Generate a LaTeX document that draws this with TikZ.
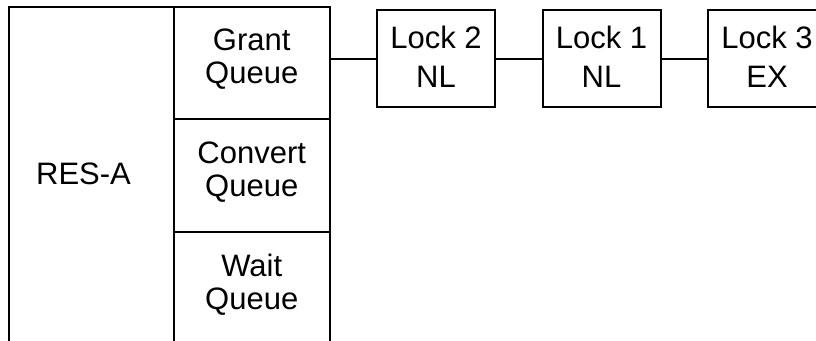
\documentclass[tikz,border=0pt]{standalone}
\usepackage{fontspec}
\setmainfont{Liberation Sans}
\begin{document}
\begin{tikzpicture}[x=1pt,y=-1pt,
  line width=2pt,
  cell/.style={draw, line width=2pt, rectangle, inner sep=0pt,
    minimum width=155.5pt, minimum height=113pt, align=center,
    font=\fontsize{31}{33}\selectfont, text depth=13pt},
  lockbox/.style={draw, line width=2pt, rectangle, inner sep=0pt,
    minimum width=118pt, minimum height=97pt, align=center,
    font=\fontsize{31}{39}\selectfont, text depth=4pt},
  resbox/.style={draw, line width=2pt, rectangle, inner sep=0pt,
    minimum width=165pt, minimum height=338pt,
    font=\fontsize{31}{33}\selectfont, text depth=5pt},
  link/.style={draw, line width=2pt}
]
\useasboundingbox (0,0) rectangle (816,340);
\clip (0,0) rectangle (816,340);
\fill[white] (0,0) rectangle (816,340);

\node[resbox] (res) at (91.5,176) {RES-A\hspace*{16pt}};
\node[cell, minimum height=112pt] (grant) at (251.75,63) {Grant\\Queue};
\node[cell] (convert) at (251.75,175.5) {Convert\\Queue};
\node[cell] (wait) at (251.75,288.5) {Wait\\Queue};

\node[lockbox] (lock2) at (436,58.5) {Lock 2\\NL};
\node[lockbox] (lock1) at (601.5,58.5) {Lock 1\\NL};
\node[lockbox] (lock3) at (767,58.5) {Lock 3\\EX};

\draw[link] (grant.east |- lock2.west) -- (lock2.west);
\draw[link] (lock2.east) -- (lock1.west);
\draw[link] (lock1.east) -- (lock3.west);
\end{tikzpicture}
\end{document}
